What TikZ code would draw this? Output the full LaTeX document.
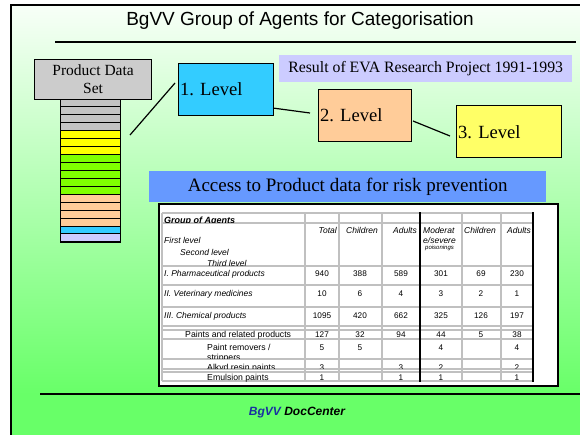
\documentclass[tikz,border=0pt]{standalone}
\usepackage{fontspec}
\setmainfont{Liberation Serif}
\setsansfont{Liberation Sans}
\definecolor{slidetop}{RGB}{248,255,248}
\definecolor{slidemid}{RGB}{200,255,200}
\definecolor{slidegreen}{RGB}{104,255,104}
\definecolor{pdsgray}{RGB}{204,204,204}
\definecolor{levelcyan}{RGB}{51,204,255}
\definecolor{levelpeach}{RGB}{255,204,153}
\definecolor{levelyellow}{RGB}{255,255,102}
\definecolor{resultlilac}{RGB}{204,204,255}
\definecolor{accessblue}{RGB}{102,153,255}
\definecolor{gridgray}{RGB}{192,192,192}
\definecolor{stackgray}{RGB}{196,196,196}
\definecolor{stackyellow}{RGB}{255,255,0}
\definecolor{stackgreen}{RGB}{128,255,0}
\definecolor{docblue}{RGB}{25,50,160}
\usepackage{tikz}
\usetikzlibrary{calc}
\usetikzlibrary{positioning}
\tikzset{
  levelbox/.style={draw, line width=1.2pt, anchor=north west,
    inner xsep=1.5pt, align=left, minimum height=52pt,
    font=\fontsize{18.6}{21}\selectfont},
  strip/.style={draw, line width=1pt},
  link/.style={line width=1.2pt},
  lbl/.style={inner sep=0pt, anchor=base west,
    font=\sffamily\itshape\fontsize{8.5}{10}\selectfont},
  plain/.style={inner sep=0pt, anchor=base west,
    font=\sffamily\fontsize{8.7}{10}\selectfont},
  num/.style={inner sep=0pt, anchor=base,
    font=\sffamily\fontsize{8.2}{10}\selectfont},
  gridline/.style={gridgray, line width=1.5pt},
  boldline/.style={black, line width=2.6pt}
}
\frenchspacing

\begin{document}
\begin{tikzpicture}[x=1pt,y=-1pt]
  \useasboundingbox (0,0) rectangle (580,434);
  \begin{scope}
    \clip (0,0) rectangle (580,434);
    \shade[top color=slidetop, middle color=slidemid, bottom color=slidegreen]
      (11,5) rectangle (600,394);
    \fill[slidegreen] (11,394) rectangle (600,440);
    \draw[line width=1.2pt] (11,440) -- (11,5) -- (600,5);
    \draw[line width=1.5pt] (40,394) -- (600,394);
  \end{scope}

  \node[font=\sffamily\fontsize{19}{22}\selectfont] (title) at (300,21)
    {BgVV Group of Agents for Categorisation};
  \draw[line width=1.3pt] (55,42) -- (576,42);

  \node[draw, fill=pdsgray, line width=1.2pt, anchor=north west,
    minimum width=117pt, minimum height=40pt, align=center,
    font=\fontsize{15.5}{18}\selectfont] (pds) at (34,59) {Product Data\\Set};

  \node[draw, line width=1pt, anchor=north west, inner sep=0pt,
    minimum width=60pt, minimum height=143pt] (stack) at (60,99) {};
  \foreach \c [count=\i from 0] in {stackgray,stackgray,stackgray,stackgray,
      stackyellow,stackyellow,stackyellow,
      stackgreen,stackgreen,stackgreen,stackgreen,stackgreen,
      levelpeach,levelpeach,levelpeach,levelpeach,levelcyan,resultlilac}
    \draw[strip, fill=\c] (60,{99+\i*7.94}) rectangle (120,{99+(\i+1)*7.94});

  \node[levelbox, fill=levelcyan, text width=92pt] (lvl1) at (178,63) {1. Level};
  \node[levelbox, fill=levelpeach, text width=90pt] (lvl2) at (318,89) {2. Level};
  \node[levelbox, fill=levelyellow, text width=102pt, text depth=-6pt] (lvl3) at (456,105) {3. Level};

  \node[fill=resultlilac, anchor=north west, minimum width=293pt,
    minimum height=27pt, font=\fontsize{15.8}{18}\selectfont] (result) at (279,55)
    {Result of EVA Research Project 1991-1993};

  \coordinate (stackout) at (130,135);
  \coordinate (lvl1in) at (175,83);
  \coordinate (lvl2in) at (310,113);
  \coordinate (lvl2out) at (413,121);
  \coordinate (lvl3in) at (450,136);
  \draw[link] (stackout) -- (lvl1in);
  \draw[link] ($(lvl1.south east)+(0,-8)$) -- (lvl2in);
  \draw[link] (lvl2out) -- (lvl3in);

  \node[draw, fill=white, line width=1.8pt, anchor=north west, inner sep=0pt,
    minimum width=399pt, minimum height=182pt] (frame) at (158,203) {};
  \foreach \y in {213,223,266,285,307,326,330,339,359,369,372,381}
    \draw[gridline] (162,\y) -- (533,\y);
  \foreach \x in {162,305,339,382,462,501}
    \draw[gridline] (\x,213) -- (\x,381);
  \foreach \x in {420,533}
    \draw[boldline] (\x,212) -- (\x,382);

  \begin{scope}
    \clip (162,213) rectangle (533,222.5);
    \node[lbl, font=\sffamily\bfseries\itshape\fontsize{9}{10}\selectfont]
      (groupagents) at (164,223) {Group of Agents};
  \end{scope}
  \node[lbl, anchor=base east] (htotal) at (337,233) {Total};
  \node[lbl, anchor=base east] (hchild) at (378,233) {Children};
  \node[lbl, anchor=base east] (hadult) at (417,233) {Adults};
  \node[lbl] (hmod) at (423,233) {Moderat};
  \node[lbl] (hsev) at (423,243) {e/severe};
  \node[lbl, font=\sffamily\itshape\fontsize{6}{7}\selectfont] (hpois) at (425,249.5) {poisonings};
  \node[lbl] (hchild2) at (464,233) {Children};
  \node[lbl, anchor=base east] (hadult2) at (531,233) {Adults};
  \node[lbl] (first) at (164,243) {First level};
  \node[lbl] (second) at (180,255) {Second level};
  \begin{scope}
    \clip (162,223) rectangle (533,265);
    \node[lbl] (third) at (207,266) {Third level};
  \end{scope}
  \node[lbl] (pharma) at (164,276) {I. Pharmaceutical products};
  \node[lbl] (vet) at (164,296) {II. Veterinary medicines};
  \node[lbl] (chem) at (164,318) {III. Chemical products};
  \node[plain] (paints) at (185,337.2) {Paints and related products};
  \node[plain] (removers) at (207,350) {Paint removers /};
  \node[plain] (emulsion) at (207,380) {Emulsion paints};
  \begin{scope}
    \clip (162,339) rectangle (533,358);
    \node[plain] (strippers) at (207,360.5) {strippers};
  \end{scope}
  \begin{scope}
    \clip (162,359) rectangle (533,368);
    \node[plain] (alkyd) at (207,370.5) {Alkyd resin paints};
    \foreach \v/\x [count=\k] in {3/322,3/401,2/441,2/517}
      \node[num] (alk\k) at (\x,370.5) {\v};
  \end{scope}
  \foreach \y/\a/\b/\c/\d/\e/\f [count=\r] in {276/940/388/589/301/69/230,
      296/10/6/4/3/2/1, 318/1095/420/662/325/126/197,
      337.2/127/32/94/44/5/38, 350/5/5/{}/4/{}/4, 380/1/{}/1/1/{}/1}
    \foreach \v/\x [count=\k] in {\a/322,\b/360,\c/401,\d/441,\e/481,\f/517}
      \node[num] (v\r-\k) at (\x,\y) {\v};

  \node[fill=accessblue, anchor=north west, minimum width=397pt,
    minimum height=31pt, font=\fontsize{19}{22}\selectfont] (access) at (149,171)
    {Access to Product data for risk prevention};

  \node[font=\sffamily\bfseries\itshape\fontsize{12}{14}\selectfont] (doc) at (297,413)
    {\textcolor{docblue}{BgVV} DocCenter};
\end{tikzpicture}
\end{document}
